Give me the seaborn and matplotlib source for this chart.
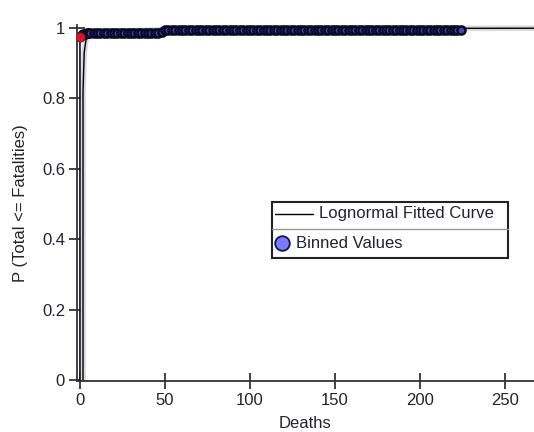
import numpy as np
import pandas as pd
import seaborn as sns
import matplotlib.pyplot as plt
import matplotlib.patheffects as pe
from matplotlib.lines import Line2D
from matplotlib.patches import Rectangle

# Lognormal fitted curve
fit_deaths = [1.8, 1.8, 2.5, 3.5, 5, 8, 15, 50, 120, 267]
fit_prob = [0.0, 0.82, 0.93, 0.965, 0.978, 0.985, 0.99, 0.995, 0.998, 0.999]

# Binned values: first bin (red), then the rest
first_death = [0]
first_prob = [0.975]

early_deaths = [1, 2, 3, 4, 5, 6, 8, 10, 12, 14, 16, 18, 20, 22, 24, 26, 28,
                30, 32, 34, 36, 38, 40, 42, 44, 46, 48]
early_prob = [0.979, 0.982, 0.984, 0.985, 0.986, 0.986, 0.986, 0.986, 0.986,
              0.986, 0.986, 0.986, 0.986, 0.986, 0.986, 0.986, 0.986, 0.986,
              0.986, 0.986, 0.986, 0.986, 0.986, 0.986, 0.986, 0.986, 0.987]

late_deaths = [50, 52, 54, 56, 58, 60, 62, 64, 66, 68, 70, 72, 74, 76, 78, 80,
               82, 84, 86, 88, 90, 92, 94, 96, 98, 100, 102, 104, 106, 108, 110,
               112, 114, 116, 118, 120, 122, 124, 126, 128, 130, 132, 134, 136,
               138, 140, 142, 144, 146, 148, 150, 152, 154, 156, 158, 160, 162,
               164, 166, 168, 170, 172, 174, 176, 178, 180, 182, 184, 186, 188,
               190, 192, 194, 196, 198, 200, 202, 204, 206, 208, 210, 212, 214,
               216, 218, 220, 222, 224]
late_prob = [0.994] * len(late_deaths)

legend_labels = ["Lognormal Fitted Curve", "Binned Values"]

bins = pd.DataFrame({"deaths": early_deaths + late_deaths,
                     "prob": early_prob + late_prob})
ecdf_line = pd.DataFrame({"deaths": [0] + first_death + bins["deaths"].tolist(),
                          "prob": [0.0] + first_prob + bins["prob"].tolist()})
fit = pd.DataFrame({"deaths": fit_deaths, "prob": fit_prob})

sns.set_style("ticks")
plt.rcParams["font.family"] = ["Liberation Sans", "DejaVu Sans"]

fig = plt.figure(figsize=(5.34, 4.32), dpi=100)
ax = fig.add_axes([0.144, 0.118, 0.856, 0.824])

text_col = "#222233"
fs = 12

# fitted curve with light grey halo
sns.lineplot(data=fit, x="deaths", y="prob", ax=ax, color="black", lw=1,
             sort=False, estimator=None,
             path_effects=[pe.Stroke(linewidth=4, foreground="#d9d9d9"), pe.Normal()],
             zorder=2)

# binned values line + markers
sns.lineplot(data=ecdf_line, x="deaths", y="prob", ax=ax, color="#101028", lw=1.2,
             sort=False, estimator=None, zorder=3)
sns.scatterplot(data=bins, x="deaths", y="prob", ax=ax, s=34, color="#4646b4",
                edgecolor="#0a0a24", linewidth=1.8, zorder=4)
sns.scatterplot(x=first_death, y=first_prob, ax=ax, s=42, color="#e0102a",
                edgecolor="#a01020", linewidth=0.8, zorder=5)

ax.set_xlim(-1.8, 267)
ax.set_ylim(-0.003, 1.008)
ax.set_xticks([0, 50, 100, 150, 200, 250])
ax.set_yticks([0, 0.2, 0.4, 0.6, 0.8, 1])
ax.set_yticklabels(["0", "0.2", "0.4", "0.6", "0.8", "1"])
sns.despine(ax=ax)
for s in ["left", "bottom"]:
    ax.spines[s].set_color("#333333")
    ax.spines[s].set_linewidth(1.3)
ax.tick_params(direction="inout", length=11, width=1.2, color="#222222",
               labelsize=fs, labelcolor=text_col, pad=3)
ax.set_xlabel("Deaths", fontsize=fs, color=text_col, labelpad=6)
ax.set_ylabel("P (Total <= Fatalities)", fontsize=fs, color=text_col, labelpad=10)

# legend box drawn by hand (two rows with a separator, like the original)
fig.patches.append(Rectangle((0.509, 0.403), 0.442, 0.129, transform=fig.transFigure,
                             facecolor="white", edgecolor="#222222", lw=1.5, zorder=10))
fig.lines.append(Line2D([0.509, 0.951], [0.469, 0.469], transform=fig.transFigure,
                        color="#999999", lw=1, zorder=11))
fig.lines.append(Line2D([0.515, 0.586], [0.505, 0.505], transform=fig.transFigure,
                        color="black", lw=1, zorder=11))
fig.lines.append(Line2D([0.528], [0.437], transform=fig.transFigure, marker="o",
                        markersize=10.5, markerfacecolor="#7b7bff",
                        markeredgecolor="#14144a", markeredgewidth=1.3, zorder=11))
fig.text(0.597, 0.505, legend_labels[0], fontsize=fs, color=text_col,
         va="center", ha="left", zorder=12)
fig.text(0.555, 0.437, legend_labels[1], fontsize=fs, color=text_col,
         va="center", ha="left", zorder=12)

fig.savefig("out.png", dpi=100)
